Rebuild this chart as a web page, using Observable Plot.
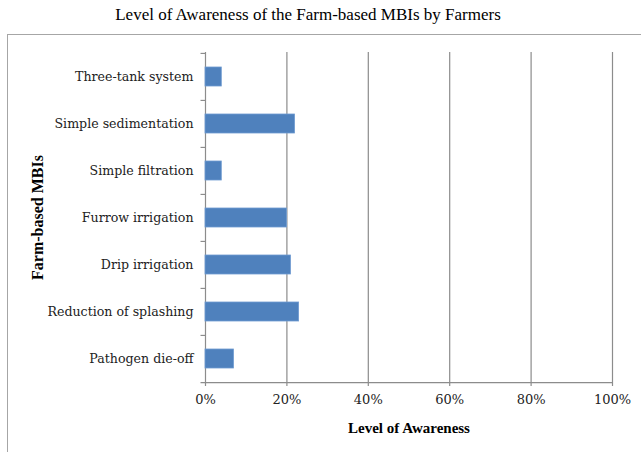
<!DOCTYPE html>
<html>
<head>
<meta charset="utf-8">
<script src="https://cdn.jsdelivr.net/npm/d3@7"></script>
<script src="https://cdn.jsdelivr.net/npm/@observablehq/plot@0.6"></script>
<style>
  html, body { margin: 0; padding: 0; background: #fff; }
  #wrap { position: relative; width: 641px; height: 452px; overflow: hidden; }
  #frame { position: absolute; left: 7px; top: 34px; width: 700px; height: 500px;
           border-left: 1px solid #a6a6a6; border-top: 1px solid #a6a6a6; }
  #title { position: absolute; left: 0; width: 616px; top: 5px; text-align: center;
           font-family: "Liberation Serif", serif; font-size: 17px; color: #000; }
  #chart { position: absolute; left: 0; top: 0; }
</style>
</head>
<body>
<div id="wrap">
  <div id="frame"></div>
  <div id="title">Level of Awareness of the Farm-based MBIs by Farmers</div>
  <div id="chart"></div>
</div>
<script>
const categories = [
  "Three-tank system",
  "Simple sedimentation",
  "Simple filtration",
  "Furrow irrigation",
  "Drip irrigation",
  "Reduction of splashing",
  "Pathogen die-off"
];
const awareness = [4, 22, 4, 20, 21, 23, 7];
const xTicks = [0, 20, 40, 60, 80, 100];
const gridTicks = [20, 40, 60, 80, 100];

const data = categories.map((c, i) => ({category: c, value: awareness[i]}));

const W = 641, H = 452, mt = 52, mb = 70, ml = 205, mr = 29;
const step = (H - mt - mb) / categories.length;
const axisColor = "#8c8c8c";

const chart = Plot.plot({
  width: W,
  height: H,
  marginTop: mt,
  marginBottom: mb,
  marginLeft: ml,
  marginRight: mr,
  style: {background: "transparent", fontFamily: "'DejaVu Serif', serif", fontSize: "12px", color: "#222"},
  x: {domain: [0, 100]},
  y: {domain: categories, paddingInner: 0.6, paddingOuter: 0.3},
  marks: [
    Plot.ruleX(gridTicks, {stroke: axisColor, strokeWidth: 1.2}),
    Plot.ruleX([0], {stroke: axisColor, strokeWidth: 1.2}),
    Plot.ruleY(categories, {y: d => d, x1: -1.1, x2: 0, dy: -step / 2, stroke: axisColor, strokeWidth: 1.2}),
    Plot.ruleY([categories[categories.length - 1]], {y: d => d, x1: -1.1, x2: 100, dy: step / 2, stroke: axisColor, strokeWidth: 1.2}),
    Plot.barX(data, {y: "category", x: "value", fill: "#4f81bd", stroke: "#6f9bd1", strokeWidth: 0.8}),
    Plot.axisX(xTicks, {
      tickSize: 4, tickPadding: 8, stroke: axisColor, strokeWidth: 1.2,
      tickFormat: d => d + "%", fontSize: 13,
      label: "Level of Awareness", labelAnchor: "center", labelArrow: "none", labelOffset: 50
    }),
    Plot.axisY({
      tickSize: 0, tickPadding: 12, fontSize: 12.6,
      label: "Farm-based MBIs", labelAnchor: "center", labelArrow: "none", labelOffset: 174
    })
  ]
});

// style axis labels (bold serif)
chart.querySelectorAll("g[aria-label='x-axis label'] text").forEach(t => {
  t.setAttribute("font-weight", "bold");
  t.setAttribute("font-family", "'Liberation Serif', serif");
  t.setAttribute("font-size", "15");
  t.setAttribute("fill", "#000");
});
chart.querySelectorAll("g[aria-label='y-axis label'] text").forEach(t => {
  t.setAttribute("font-weight", "bold");
  t.setAttribute("font-family", "'Liberation Serif', serif");
  t.setAttribute("font-size", "16");
  t.setAttribute("fill", "#000");
});

document.getElementById("chart").appendChild(chart);
</script>
</body>
</html>
